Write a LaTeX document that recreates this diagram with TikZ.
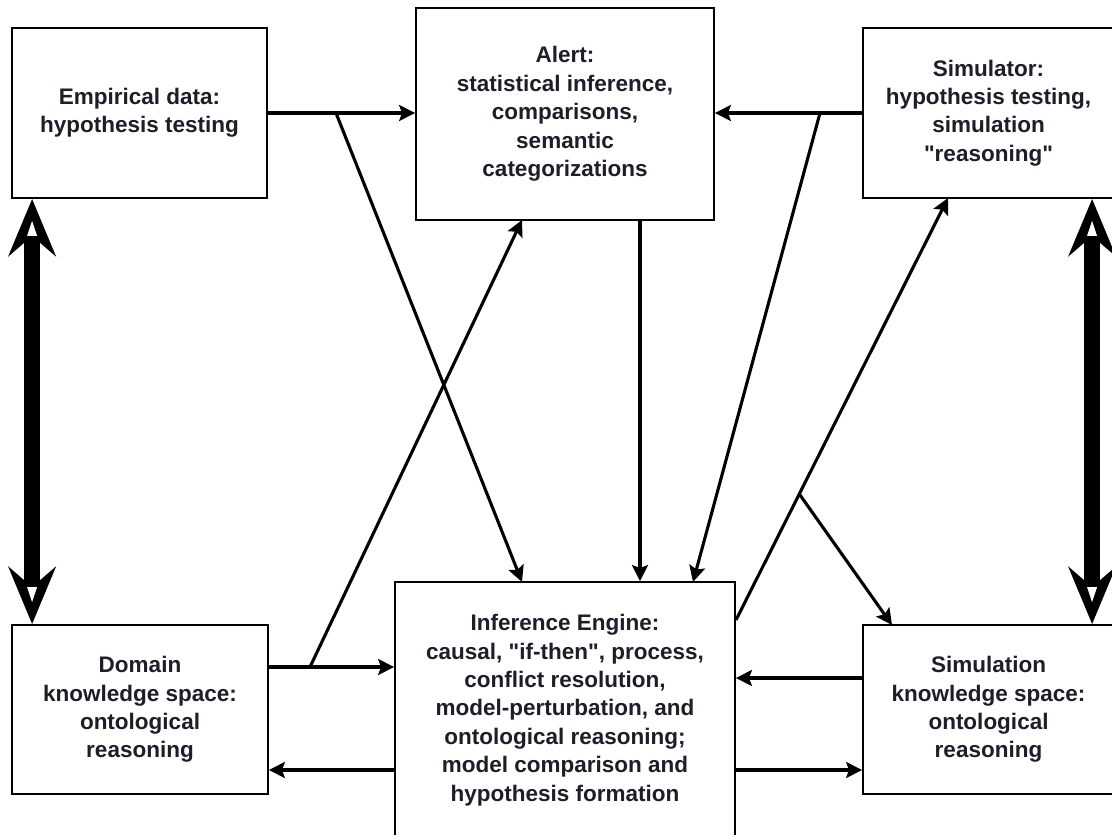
\documentclass[tikz,border=0pt]{standalone}
\usepackage{fontspec}
\setmainfont{Liberation Sans}[Ligatures=TeXOff]
\usetikzlibrary{arrows.meta,calc}
\definecolor{ink}{HTML}{1E1E2A}
\newcommand\boxfont{\fontsize{22.5}{28.4}\selectfont\bfseries}
\begin{document}
\begin{tikzpicture}[x=1pt,y=-1pt,
  box/.style={draw=black, line width=1.8pt, align=center, font=\boxfont, text=ink, inner sep=0pt, fill=white},
  arr/.style={draw=black, line width=3.1pt, -{Stealth[length=16pt,width=16pt,inset=3pt]}},
  dbl/.style={draw=black, line width=16pt, {Stealth[length=57pt,width=47pt,inset=20pt]}-{Stealth[length=57pt,width=47pt,inset=20pt]}},
  hole/.style={fill=white}
]
\useasboundingbox (0,0) rectangle (1112,835);
\fill[white] (0,0) rectangle (1112,835);

% boxes
\node[box, minimum width=255pt, minimum height=170pt] (emp) at (139.5,113) {Empirical data:\\hypothesis testing};
\node[box, minimum width=298pt, minimum height=212pt] (alert) at (565,114) {Alert:\\statistical inference,\\comparisons,\\semantic\\categorizations};
\node[box, minimum width=251pt, minimum height=170pt] (sim) at (988.5,113) {Simulator:\\hypothesis testing,\\simulation\\"reasoning"};
\node[box, minimum width=256pt, minimum height=169pt] (dom) at (140,709.5) {Domain\\knowledge space:\\ontological\\reasoning};
\node[box, minimum width=340pt, minimum height=256pt] (inf) at (565,710) {Inference Engine:\\causal, "if-then", process,\\conflict resolution,\\model-perturbation, and\\ontological reasoning;\\model comparison and\\hypothesis formation};
\node[box, minimum width=251pt, minimum height=169pt] (simk) at (988.5,709.5) {Simulation\\knowledge space:\\ontological\\reasoning};

% branch points and target points
\coordinate (b1) at (336,113);
\coordinate (b2) at (820,113);
\coordinate (b3) at (310,667);
\coordinate (b4) at (800,495);
\coordinate (s4) at (736,620);
\coordinate (t1) at (522,582);
\coordinate (t2) at (693,582);
\coordinate (t3) at (522,220);
\coordinate (t4) at (948,198);
\coordinate (t5) at (892,625);

% top row
\draw[arr] (emp.east) -- (alert.west |- emp.east);
\draw[arr] (sim.west) -- (alert.east |- sim.west);
\draw[arr] (b1) -- (t1);
\draw[arr] (b2) -- (t2);
\draw[arr] (alert.south -| 640,0) -- (inf.north -| 640,0);

% bottom row
\draw[arr] (dom.east |- b3) -- (inf.west |- b3);
\draw[arr] (b3) -- (t3);
\draw[arr] (inf.west |- 0,770) -- (dom.east |- 0,770);
\draw[arr] (simk.west |- 0,678) -- (inf.east |- 0,678);
\draw[arr] (inf.east |- 0,770) -- (simk.west |- 0,770);
\draw[arr] (s4) -- (t4);
\draw[arr] (b4) -- (t5);

% thick double arrows
\draw[dbl] ($(emp.south west)+(21,0)$) -- ($(dom.north west)+(21,0)$);
\draw[dbl] ($(sim.south west)+(230,0)$) -- ($(simk.north west)+(230,0)$);
\fill[hole] ($(emp.south west)+(21,22)$) -- ++(-5,15) -- ++(10,0) -- cycle;
\fill[hole] ($(dom.north west)+(21,-22)$) -- ++(-5,-15) -- ++(10,0) -- cycle;
\fill[hole] ($(sim.south west)+(230,22)$) -- ++(-5,15) -- ++(10,0) -- cycle;
\fill[hole] ($(simk.north west)+(230,-22)$) -- ++(-5,-15) -- ++(10,0) -- cycle;
\end{tikzpicture}
\end{document}
